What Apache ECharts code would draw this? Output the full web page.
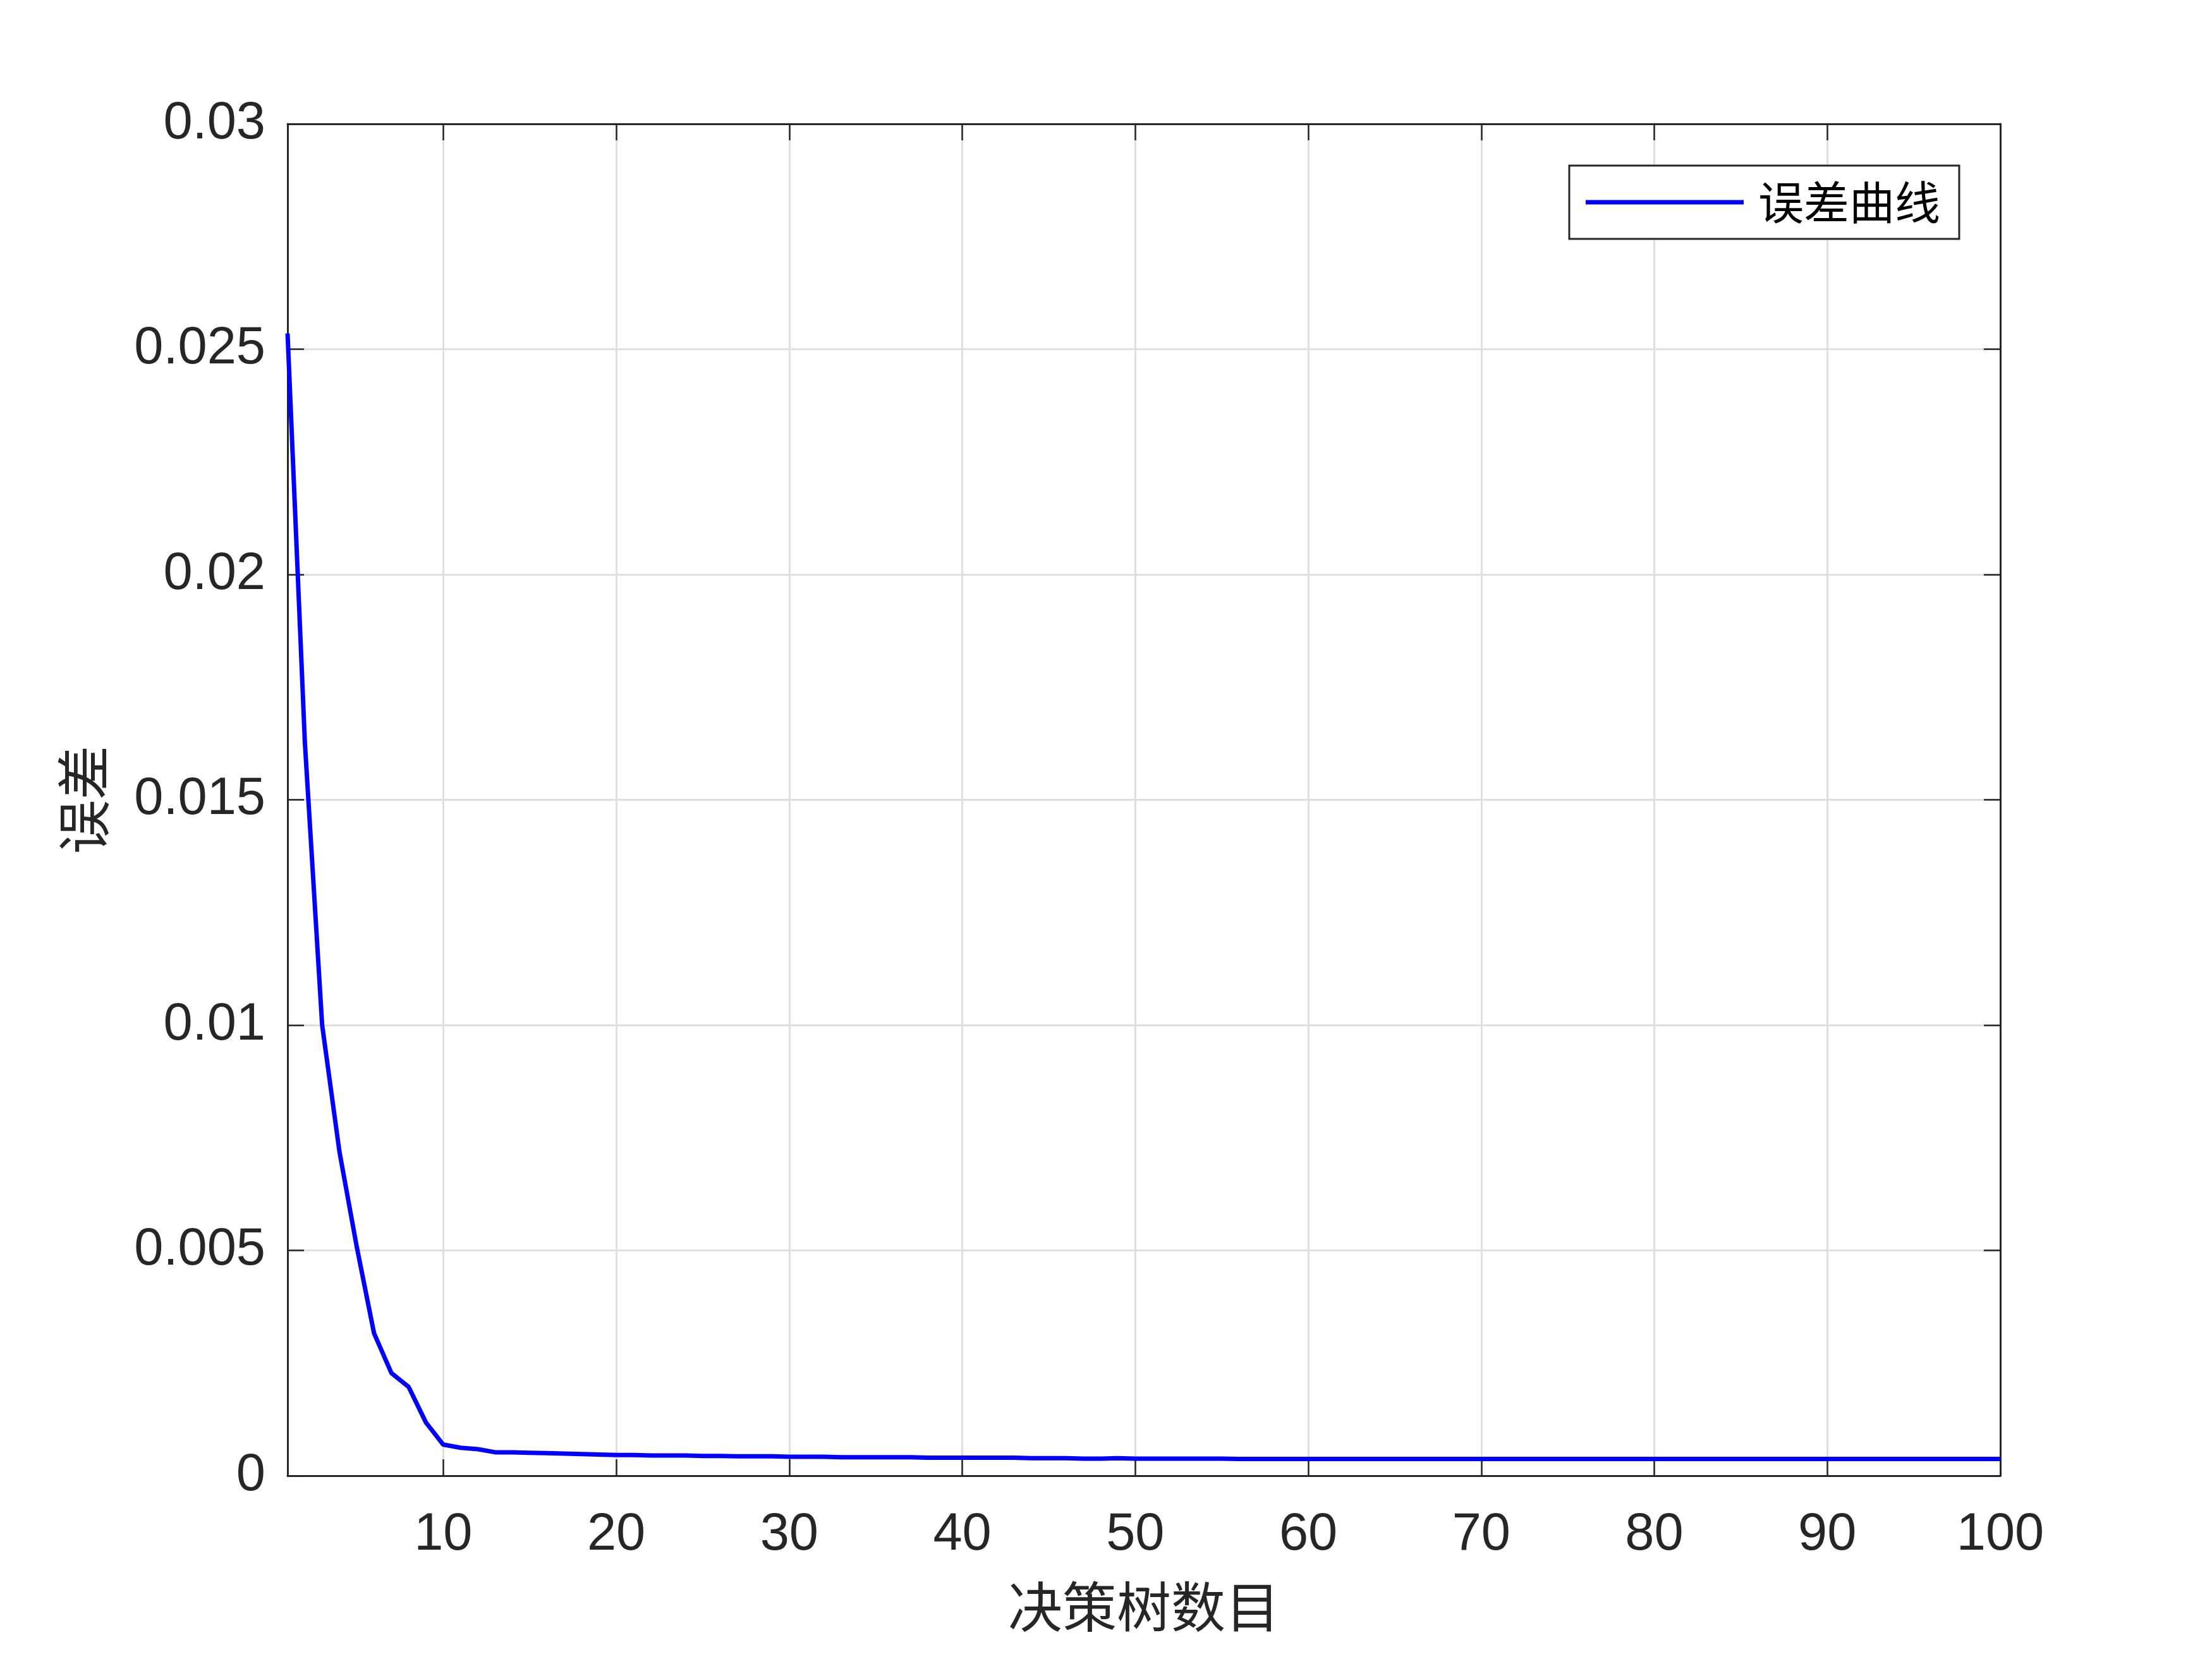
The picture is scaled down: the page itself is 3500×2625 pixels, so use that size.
<!DOCTYPE html>
<html>
<head>
<meta charset="utf-8">
<script src="https://cdn.jsdelivr.net/npm/echarts@6/dist/echarts.min.js"></script>
<style>
html,body{margin:0;padding:0;background:#fff;}
#chart{width:3500px;height:2625px;}
</style>
</head>
<body>
<div id="chart"></div>
<script>
// number of decision trees 1..100
const treeCounts = [];
for (let i = 1; i <= 100; i++) treeCounts.push(i);

// error values
const errorValues = [
  0.02535, 0.01628, 0.01000, 0.00719, 0.00508, 0.00316, 0.00228, 0.00197, 0.00118, 0.00069,
  0.00062, 0.00059, 0.00052, 0.00052, 0.00051, 0.00050, 0.00049, 0.00048, 0.00047, 0.00046,
  0.00046, 0.00045, 0.00045, 0.00045, 0.00044, 0.00044, 0.00043, 0.00043, 0.00043, 0.00042,
  0.00042, 0.00042, 0.00041, 0.00041, 0.00041, 0.00041, 0.00041, 0.00040, 0.00040, 0.00040,
  0.00040, 0.00040, 0.00040, 0.00039, 0.00039, 0.00039, 0.00038, 0.00038, 0.00039, 0.00038,
  0.00038, 0.00038, 0.00038, 0.00038, 0.00038, 0.00037, 0.00037, 0.00037, 0.00037, 0.00037,
  0.00037, 0.00037, 0.00037, 0.00037, 0.00037, 0.00037, 0.00037, 0.00037, 0.00037, 0.00037,
  0.00037, 0.00037, 0.00037, 0.00037, 0.00037, 0.00037, 0.00037, 0.00037, 0.00037, 0.00037,
  0.00037, 0.00037, 0.00037, 0.00037, 0.00037, 0.00037, 0.00037, 0.00037, 0.00037, 0.00037,
  0.00037, 0.00037, 0.00037, 0.00037, 0.00037, 0.00037, 0.00037, 0.00037, 0.00037, 0.00037
];

const xTickValues = [10, 20, 30, 40, 50, 60, 70, 80, 90, 100];
const yTickLabels = ['0', '0.005', '0.01', '0.015', '0.02', '0.025', '0.03'];

const seriesName = '误差曲线';
const xAxisTitle = '决策树数目';
const yAxisTitle = '误差';

const textColor = '#262626';
const gridColor = '#dfdfdf';

const chart = echarts.init(document.getElementById('chart'), null, {renderer: 'canvas'});

const commonTick = {show: true, inside: true, length: 26, lineStyle: {color: textColor, width: 2.5}};

chart.setOption({
  backgroundColor: '#ffffff',
  animation: false,
  grid: {left: 455, right: 335, top: 196, bottom: 290, outerBoundsMode: 'none', containLabel: false},
  legend: {
    data: [seriesName],
    right: 3500 - 3100,
    top: 262,
    orient: 'vertical',
    padding: [22, 30, 22, 26],
    borderColor: textColor,
    borderWidth: 3,
    backgroundColor: '#ffffff',
    itemWidth: 250,
    itemHeight: 7,
    icon: 'rect',
    itemStyle: {color: '#0000ff'},
    textStyle: {fontFamily: 'Noto Sans CJK SC', fontSize: 72, color: '#000000', padding: [0, 0, 0, 18]}
  },
  xAxis: [{
    type: 'value',
    min: 1,
    max: 100,
    name: xAxisTitle,
    nameLocation: 'middle',
    nameGap: 164,
    nameTextStyle: {fontFamily: 'Noto Sans CJK SC', fontSize: 86, color: textColor},
    axisLine: {show: true, onZero: false, lineStyle: {color: textColor, width: 3}},
    axisTick: Object.assign({customValues: xTickValues}, commonTick),
    axisLabel: {customValues: xTickValues, margin: 53, fontFamily: 'Liberation Sans', fontSize: 83, color: textColor},
    splitLine: {show: true, lineStyle: {color: gridColor, width: 3}}
  }, {
    type: 'value',
    position: 'top',
    min: 1,
    max: 100,
    axisLine: {show: true, onZero: false, lineStyle: {color: textColor, width: 3}},
    axisTick: Object.assign({customValues: xTickValues}, commonTick),
    axisLabel: {show: false},
    splitLine: {show: false}
  }],
  yAxis: [{
    type: 'value',
    min: 0,
    max: 0.03,
    interval: 0.005,
    name: yAxisTitle,
    nameLocation: 'middle',
    nameGap: 280,
    nameRotate: 90,
    nameTextStyle: {fontFamily: 'Noto Sans CJK SC', fontSize: 86, color: textColor},
    axisLine: {show: true, onZero: false, lineStyle: {color: textColor, width: 3}},
    axisTick: commonTick,
    axisLabel: {
      margin: 35, fontFamily: 'Liberation Sans', fontSize: 83, color: textColor,
      padding: [14, 0, 0, 0],
      formatter: function (v, idx) { return yTickLabels[Math.round(v / 0.005)]; }
    },
    splitLine: {show: true, lineStyle: {color: gridColor, width: 3}}
  }, {
    type: 'value',
    position: 'right',
    min: 0,
    max: 0.03,
    interval: 0.005,
    axisLine: {show: true, onZero: false, lineStyle: {color: textColor, width: 3}},
    axisTick: commonTick,
    axisLabel: {show: false},
    splitLine: {show: false}
  }],
  series: [{
    name: seriesName,
    type: 'line',
    xAxisIndex: 0,
    yAxisIndex: 0,
    showSymbol: false,
    symbol: 'none',
    data: treeCounts.map((x, i) => [x, errorValues[i]]),
    lineStyle: {color: '#0000ff', width: 7},
    itemStyle: {color: '#0000ff'},
    z: 3
  }]
});
</script>
</body>
</html>
